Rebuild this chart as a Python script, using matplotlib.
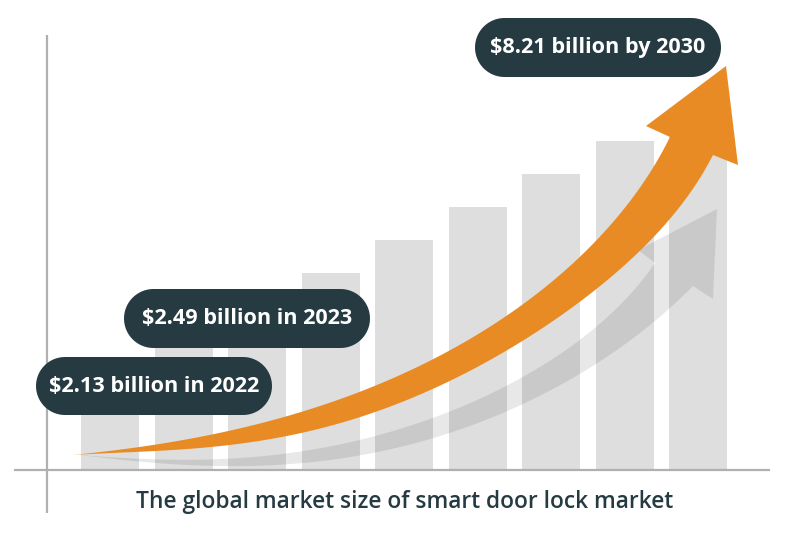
import numpy as np
import matplotlib
matplotlib.use("Agg")
import matplotlib.pyplot as plt
from matplotlib.patches import Polygon

# Bar heights (pixels above the baseline, no scale is shown)
years = [2022, 2023, 2024, 2025, 2026, 2027, 2028, 2029, 2030]
bar_heights = [98, 131, 164, 197, 230, 263, 296, 329, 362]

callouts = ["$2.13 billion in 2022", "$2.49 billion in 2023", "$8.21 billion by 2030"]
caption = "The global market size of smart door lock market"

DARK = "#263a42"
ORANGE = "#e98b24"
BAR = "#dedede"
LINE = "#b0b0b0"
BASE = 470  # baseline row in the image


def smooth(pts, deg=5, n=80):
    # smooth curve through outline points, ends held by heavy weights
    pts = np.array(pts, dtype=float)
    t = np.r_[0, np.cumsum(np.hypot(*np.diff(pts, axis=0).T))]
    t = t / t[-1]
    w = np.ones(len(pts))
    w[0] = w[-1] = 50
    tt = np.linspace(0, 1, n)
    return np.c_[np.polyval(np.polyfit(t, pts[:, 0], deg, w=w), tt),
                 np.polyval(np.polyfit(t, pts[:, 1], deg, w=w), tt)]


def arrow(upper, head, lower):
    # outline in image pixels, converted to data coords (y up from baseline)
    outline = np.vstack([smooth(upper), head, smooth(lower)])
    outline[:, 1] = BASE - outline[:, 1]
    return outline


def pill(ax, x0, x1, top, bottom, text):
    r = (bottom - top) / 2
    cy = BASE - (top + bottom) / 2
    a = np.linspace(-np.pi / 2, np.pi / 2, 40)
    right = np.c_[x1 - r + r * np.cos(a), cy + r * np.sin(a)]
    left = np.c_[x0 + r - r * np.cos(a), cy - r * np.sin(a)]
    ax.add_patch(Polygon(np.vstack([right, left]), closed=True, fc=DARK, ec="none", zorder=5))
    ax.text((x0 + x1) / 2, cy - 0.5, text, color="white", fontsize=15.6,
            fontfamily="Open Sans", fontweight="bold", ha="center", va="center", zorder=6)


fig = plt.figure(figsize=(8.1, 5.4), dpi=100)
ax = fig.add_axes([0, 0, 1, 1])
ax.set_xlim(0, 810)
ax.set_ylim(BASE - 540, BASE)
ax.axis("off")

bar_x = [110 + 73.5 * i for i in range(len(years))]
ax.bar(bar_x, bar_heights, width=58, color=BAR, zorder=1)

# axis lines
ax.plot([14, 770], [0, 0], color=LINE, lw=1.6, zorder=2, solid_capstyle="butt")
ax.plot([47, 47], [BASE - 35, BASE - 513], color=LINE, lw=1.6, zorder=2, solid_capstyle="butt")

# grey shadow arrow
grey = arrow(
    [(80, 455), (138, 459), (230, 458), (302, 452), (377, 435), (450, 412), (507, 385),
     (580, 340), (655, 263)],
    [(638, 250), (717, 209), (713, 299), (693, 286)],
    [(693, 286), (653, 322), (597, 365), (507, 408), (450, 435), (377, 453), (302, 462),
     (230, 466), (138, 462), (80, 455)],
)
ax.add_patch(Polygon(grey, closed=True, fc="black", alpha=0.09, ec="none", zorder=3))

# orange arrow
orange = arrow(
    [(73, 455), (138, 448), (213, 433), (287, 417), (400, 375), (500, 320), (597, 240),
     (623, 210), (670, 137)],
    [(646, 126), (726, 66), (738, 165), (713, 155)],
    [(713, 155), (670, 217), (640, 253), (553, 320), (400, 403), (287, 437), (213, 445),
     (138, 453), (73, 455)],
)
ax.add_patch(Polygon(orange, closed=True, fc=ORANGE, ec="none", zorder=4))

pill(ax, 36, 272, 357, 415, callouts[0])
pill(ax, 124, 370, 289, 348, callouts[1])
pill(ax, 475, 721, 18, 77, callouts[2])

ax.text(405, BASE - 502, caption, color=DARK, fontsize=16.4, fontfamily="Open Sans",
        fontweight="semibold", ha="center", va="center")

fig.savefig("out.png", dpi=100)
